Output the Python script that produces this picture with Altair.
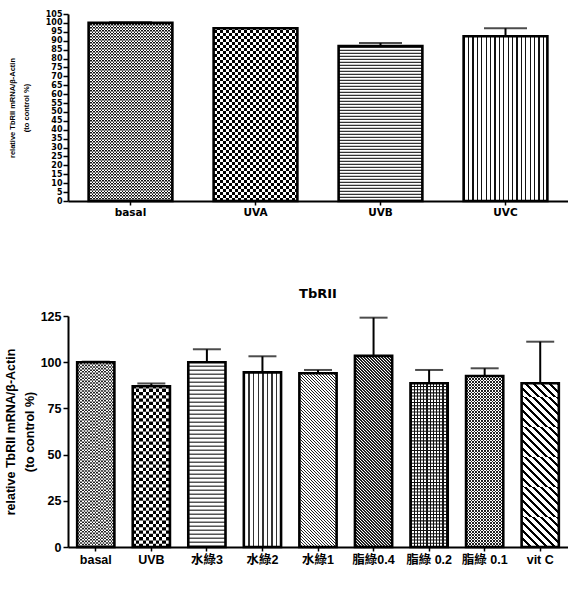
import math
import altair as alt
import pandas as pd

# ---------------- data ----------------
top_cats = ["basal", "UVA", "UVB", "UVC"]
top_vals = [100.0, 97.0, 87.0, 92.5]
top_errs = [0.4, 0.0, 1.7, 4.5]
top_ticks = list(range(0, 106, 5))

bot_cats = ["basal", "UVB", "水綠3", "水綠2", "水綠1", "脂綠0.4", "脂綠 0.2", "脂綠 0.1", "vit C"]
bot_vals = [100.0, 87.0, 100.0, 94.5, 94.0, 103.4, 88.6, 92.5, 88.6]
bot_errs = [0.3, 1.5, 7.0, 8.7, 1.8, 20.7, 7.2, 4.2, 22.5]
bot_ticks = [0, 25, 50, 75, 100, 125]

y_title = ["relative TbRII mRNA/β-Actin", "(to control %)"]

# ---------------- styling ----------------
PLOT_W = 500
TOP_H = 187
BOT_H = 231
PAD_INNER = 0.33
PAD_OUTER = 0.165
SEG = 30  # height of the pieces that carry diagonal hatching, px
WHITE = "white"
CLEAR = "rgba(255,255,255,0)"

# fill pattern of each bar: (kind, period/cell in px, line fraction, colour)
# diagonal periods are measured horizontally
top_style = {
    "basal": ("checker", 1.5, 0.5, "#111"),
    "UVA": ("checker", 3.0, 0.5, "#000"),
    "UVB": ("h", 3.0, 0.45, "#333"),
    "UVC": ("v", 4.4, 0.25, "#111"),
}
bot_style = {
    "basal": ("checker", 1.6, 0.5, "#222"),
    "UVB": ("checker", 3.3, 0.5, "#000"),
    "水綠3": ("h", 4.0, 0.35, "#555"),
    "水綠2": ("v", 4.6, 0.3, "#333"),
    "水綠1": ("d", 3.0, 0.5, "#222"),
    "脂綠0.4": ("d", 3.0, 0.5, "#222"),
    "脂綠 0.2": ("grid", 3.2, 0.33, "#111"),
    "脂綠 0.1": ("cross", 3.0, 0.4, "#222"),
    "vit C": ("d", 8.0, 0.38, "#000"),
}


def stop_list(n, frac, fg, bg):
    out = []
    k = 0
    while k < n:
        a = k / n
        b = min((k + frac) / n, 1.0)
        c = min((k + 1) / n, 1.0)
        out += [(a, fg), (b, fg), (b, bg), (c, bg)]
        k += 1
    return [alt.GradientStop(offset=round(o, 5), color=col) for o, col in out]


def vgrad(n, frac, fg, bg):
    return alt.LinearGradient(gradient="linear", x1=0, y1=0, x2=1, y2=0,
                              stops=stop_list(n, frac, fg, bg))


def dgrad(w, h, period, frac, fg, bg, back=True):
    # 45-degree stripes (in pixels) inside a w x h box, horizontal spacing `period`
    c = (w + h) / (w * w + h * h)
    if back:
        x1, y1, x2, y2 = 0, 1, c * w, 1 - c * h
    else:
        x1, y1, x2, y2 = 0, 0, c * w, c * h
    return alt.LinearGradient(gradient="linear", x1=x1, y1=y1, x2=round(x2, 6), y2=round(y2, 6),
                              stops=stop_list((w + h) / period, frac, fg, bg))


def bar_pieces(cat, style, w, h, ymax, height):
    """Rectangles (in data units) and their fills that build one patterned bar."""
    u = ymax / height
    rows, specs = [], []

    def add(part, lo, hi):
        rows.append(dict(cat=cat, part=part, lo=lo * u, hi=min(hi, h) * u))

    kind, period, frac, col = style
    add("full", 0, h)
    specs.append(("full", dict(fill=WHITE)))
    if kind == "checker":
        k = 0
        while k * period < h:
            add("even" if k % 2 == 0 else "odd", k * period, (k + 1) * period)
            k += 1
        n = w / (2 * period)
        specs.append(("even", dict(fill=vgrad(n, 0.5, col, CLEAR))))
        specs.append(("odd", dict(fill=vgrad(n, 0.5, CLEAR, col))))
    elif kind in ("h", "grid"):
        k = 0
        while k * period < h:
            add("line", k * period, k * period + frac * period)
            k += 1
        specs.append(("line", dict(fill=col)))
        if kind == "grid":
            specs.append(("full", dict(fill=vgrad(w / period, frac, col, CLEAR))))
    elif kind == "v":
        specs.append(("full", dict(fill=vgrad(w / period, frac, col, CLEAR))))
    elif kind in ("d", "cross"):
        m = int(h // SEG)
        for k in range(m):
            add("seg", k * SEG, (k + 1) * SEG)
        rest = h - m * SEG
        if rest > 0.01:
            add("rest", m * SEG, h)
        dirs = [True, False] if kind == "cross" else [True]
        for back in dirs:
            specs.append(("seg", dict(fill=dgrad(w, SEG, period, frac, col, CLEAR, back=back))))
            if rest > 0.01:
                specs.append(("rest", dict(fill=dgrad(w, rest, period, frac, col, CLEAR, back=back))))
    return rows, specs


def panel(cats, vals, errs, ymax, height, style, cap, xaxis, yaxis):
    df = pd.DataFrame({"cat": cats, "val": vals, "err": errs})
    df["top"] = df["val"] + df["err"]
    xscale = alt.Scale(domain=cats, paddingInner=PAD_INNER, paddingOuter=PAD_OUTER)
    yscale = alt.Scale(domain=[0, ymax], nice=False)
    x = alt.X("cat:N", scale=xscale, axis=xaxis, sort=cats)

    step = PLOT_W / len(cats)
    bw = step * (1 - PAD_INNER)
    all_rows, layer_specs = [], []
    for c, v in zip(cats, vals):
        rows, specs = bar_pieces(c, style[c], bw, v / ymax * height, ymax, height)
        all_rows += rows
        layer_specs += [(c, part, props) for part, props in specs]
    pieces = pd.DataFrame(all_rows)

    layers = []
    for c, part, props in layer_specs:
        layers.append(
            alt.Chart(pieces)
            .transform_filter((alt.datum.cat == c) & (alt.datum.part == part))
            .mark_bar(strokeWidth=0, **props)
            .encode(x=x, y=alt.Y("lo:Q", scale=yscale, axis=yaxis), y2="hi:Q")
        )

    base = alt.Chart(df).encode(x=x, y=alt.Y("val:Q", scale=yscale, axis=yaxis))
    layers.append(base.mark_bar(fillOpacity=0, stroke="black", strokeWidth=2.6))

    err_base = alt.Chart(df).transform_filter(alt.datum.err > 0)
    layers.append(err_base.mark_rule(color="black", strokeWidth=2).encode(
        x=x, y=alt.Y("val:Q", scale=yscale, axis=yaxis), y2="top:Q"))
    layers.append(err_base.mark_tick(color="black", thickness=2, size=cap).encode(
        x=x, y=alt.Y("top:Q", scale=yscale, axis=yaxis)))
    return alt.layer(*layers).properties(width=PLOT_W, height=height)


axis_common = dict(domainColor="black", domainWidth=2, tickColor="black", tickWidth=1.5,
                   labelColor="black", titleColor="black", grid=False)

top_x_axis = alt.Axis(title=None, labelAngle=0, labelFont="DejaVu Sans", labelFontWeight="bold",
                      labelFontSize=10.5, labelPadding=2, tickSize=4, **axis_common)
top_y_axis = alt.Axis(values=top_ticks, title=y_title, titleFont="Liberation Sans",
                      titleFontWeight="bold", titleFontSize=7.5, titleLineHeight=13.5,
                      titlePadding=15, labelFont="DejaVu Sans", labelFontWeight="bold",
                      labelFontSize=8, labelPadding=1, labelOverlap=False, tickSize=5,
                      **axis_common)

bot_x_axis = alt.Axis(title=None, labelAngle=0, labelFont="Liberation Sans, Noto Sans CJK TC",
                      labelFontWeight="bold", labelFontSize=12.5, labelPadding=2, tickSize=4,
                      **axis_common)
bot_y_axis = alt.Axis(values=bot_ticks, title=y_title, titleFont="Liberation Sans",
                      titleFontWeight="bold", titleFontSize=12.5, titleLineHeight=19,
                      titlePadding=4, labelFont="Liberation Sans", labelFontWeight="bold",
                      labelFontSize=12.5, labelPadding=2, labelOverlap=False, tickSize=5,
                      **axis_common)

top_chart = panel(top_cats, top_vals, top_errs, 105, TOP_H, top_style, 43,
                  top_x_axis, top_y_axis)
bot_chart = panel(bot_cats, bot_vals, bot_errs, 125, BOT_H, bot_style, 28,
                  bot_x_axis, bot_y_axis).properties(
    title=alt.TitleParams("TbRII", font="DejaVu Sans", fontSize=13, fontWeight="bold",
                          color="black", anchor="middle", frame="group", offset=9))

chart = alt.vconcat(top_chart, bot_chart, spacing=70).properties(
    padding={"left": 4, "top": 10, "right": 0, "bottom": 0},
    background="white",
).configure_view(stroke=None)

chart.save("out.html", embed_options={"renderer": "svg", "actions": False})
